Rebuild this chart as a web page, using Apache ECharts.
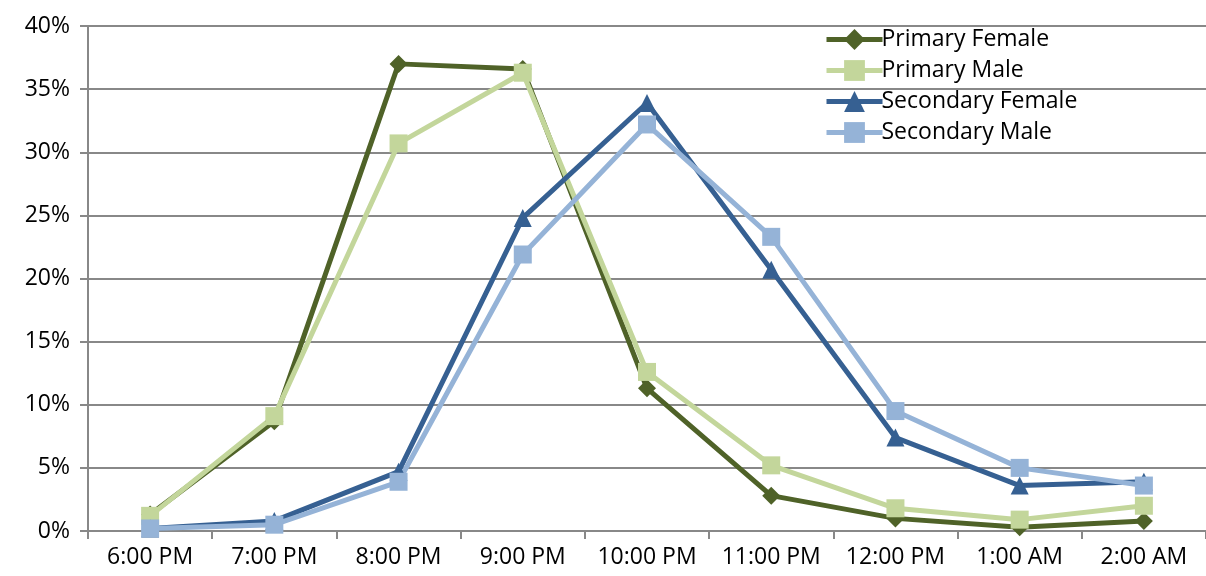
<!DOCTYPE html>
<html><head><meta charset="utf-8">
<script src="https://cdn.jsdelivr.net/npm/echarts@6/dist/echarts.min.js"></script>
<style>html,body{margin:0;padding:0;background:#fff}#c{width:1206px;height:576px}</style>
</head><body><div id="c"></div>
<script>
const categories = ['6:00 PM','7:00 PM','8:00 PM','9:00 PM','10:00 PM','11:00 PM','12:00 PM','1:00 AM','2:00 AM'];
const primaryFemale = [1.3, 8.7, 37.0, 36.6, 11.3, 2.8, 1.0, 0.3, 0.8];
const primaryMale = [1.2, 9.1, 30.7, 36.3, 12.6, 5.2, 1.8, 0.9, 2.0];
const secondaryFemale = [0.2, 0.8, 4.7, 24.8, 33.9, 20.7, 7.4, 3.6, 3.9];
const secondaryMale = [0.2, 0.5, 3.9, 21.9, 32.2, 23.3, 9.5, 5.0, 3.6];
const seriesNames = ['Primary Female','Primary Male','Secondary Female','Secondary Male'];

const font = '"Open Sans", sans-serif';
function mk(name, data, color, symbol, size) {
  return {name, type:'line', data, symbol, symbolSize:size, itemStyle:{color},
    lineStyle:{color, width:5}, animation:false};
}
const chart = echarts.init(document.getElementById('c'));
chart.setOption({
  animation:false,
  grid:{left:88, right:-8, top:26, bottom:45},
  legend:{orient:'vertical', left:819, top:23, itemGap:8, itemWidth:56, itemHeight:26,
    lineStyle:{width:5},
    textStyle:{fontFamily:font, fontSize:23, color:'#000', padding:[0,0,0,-6]},
    data:seriesNames},
  xAxis:{type:'category', data:categories, boundaryGap:true,
    axisLine:{lineStyle:{color:'#888', width:2}},
    axisTick:{show:true, interval:0, length:8, lineStyle:{color:'#888', width:2}},
    axisLabel:{interval:0, hideOverlap:false, fontFamily:font, fontSize:23, color:'#000', margin:15}},
  yAxis:{type:'value', min:0, max:40, interval:5,
    axisLabel:{formatter:'{value}%', fontFamily:font, fontSize:23, color:'#000', margin:18},
    axisLine:{show:true, lineStyle:{color:'#888', width:2}},
    axisTick:{show:true, length:8, lineStyle:{color:'#888', width:2}},
    splitLine:{lineStyle:{color:'#888', width:2}}},
  series:[
    mk(seriesNames[0], primaryFemale, '#4F6228', 'diamond', 18),
    mk(seriesNames[1], primaryMale, '#C3D69B', 'rect', 18),
    mk(seriesNames[2], secondaryFemale, '#366092', 'triangle', 18),
    mk(seriesNames[3], secondaryMale, '#95B3D7', 'rect', 18)
  ]
});
</script></body></html>
